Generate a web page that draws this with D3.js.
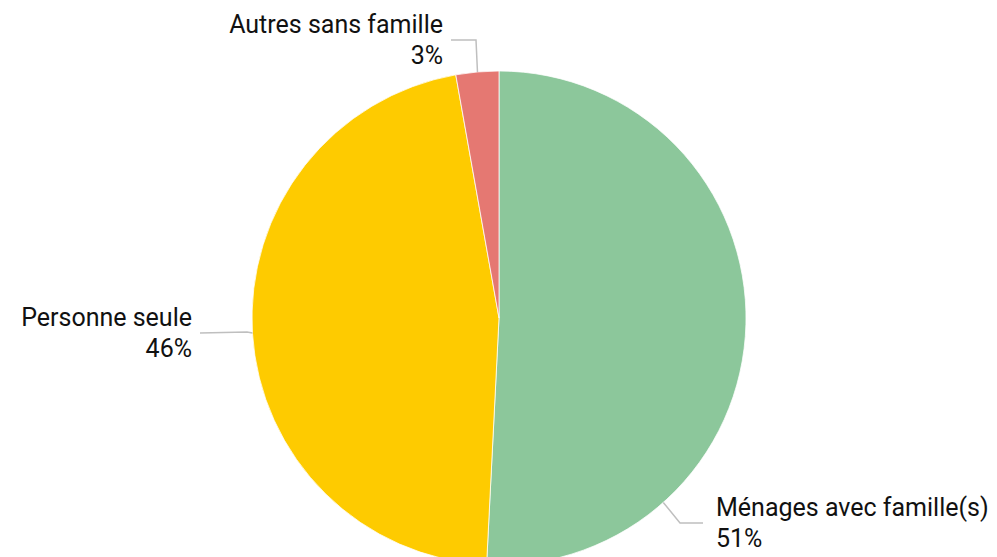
<!DOCTYPE html>
<html>
<head>
<meta charset="utf-8">
<script src="https://cdn.jsdelivr.net/npm/d3@7"></script>
<style>
  body { margin: 0; background: #fff; }
  text { font-family: "Roboto", "DejaVu Sans", sans-serif; fill: #111; }
</style>
</head>
<body>
<div id="chart"></div>
<script>
// data
var categories = ["Ménages avec famille(s)", "Personne seule", "Autres sans famille"];
var shares = [50.8, 46.4, 2.8];
var percentLabels = ["51%", "46%", "3%"];
var colors = ["#8cc79b", "#fecb00", "#e57872"];

var width = 997, height = 557;
var cx = 499, cy = 318, radius = 247;

var svg = d3.select("#chart").append("svg")
    .attr("width", width)
    .attr("height", height);

var g = svg.append("g")
    .attr("transform", "translate(" + cx + "," + cy + ")");

var pie = d3.pie().sort(null).value(function(d){ return d; });
var arcs = pie(shares);

var arc = d3.arc().innerRadius(0).outerRadius(radius);

g.selectAll("path.slice")
    .data(arcs)
    .enter().append("path")
    .attr("class", "slice")
    .attr("d", arc)
    .attr("fill", function(d, i){ return colors[i]; })
    .attr("stroke", "#fff")
    .attr("stroke-width", 0.75);

// label layout: angle on the rim where the leader starts, elbow and end offsets
var layout = [
    { angle: 138.3, elbow: [680 - cx, 523 - cy], end: [703 - cx, 523 - cy], anchor: "start", tx: 716 - cx, ty: 516 - cy },
    { angle: 266.5, elbow: [247 - cx, 332 - cy], end: [200 - cx, 333 - cy], anchor: "end", tx: 192 - cx, ty: 326 - cy },
    { angle: 355.0, elbow: [476 - cx, 40 - cy], end: [451 - cx, 40 - cy], anchor: "end", tx: 443 - cx, ty: 33 - cy }
];

function rimPoint(deg){
    var a = deg * Math.PI / 180;
    return [radius * Math.sin(a), -radius * Math.cos(a)];
}

layout.forEach(function(l, i){
    var p = rimPoint(l.angle);
    g.append("polyline")
        .attr("points", [p, l.elbow, l.end].map(function(q){ return q.join(","); }).join(" "))
        .attr("fill", "none")
        .attr("stroke", "#bfbfbf")
        .attr("stroke-width", 1.5);

    var t = g.append("text")
        .attr("text-anchor", l.anchor)
        .attr("font-size", 25)
        .attr("font-weight", 400);
    t.append("tspan").attr("x", l.tx).attr("y", l.ty).text(categories[i]);
    t.append("tspan").attr("x", l.tx).attr("y", l.ty + 30.5).text(percentLabels[i]);
});
</script>
</body>
</html>
